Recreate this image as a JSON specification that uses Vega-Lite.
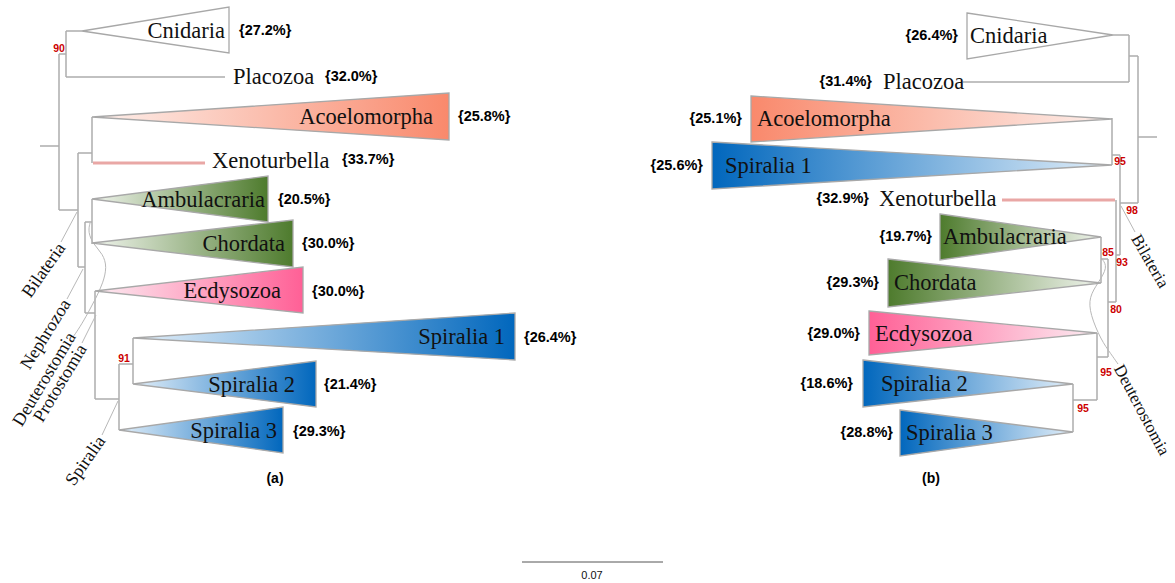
{
  "$schema": "https://vega.github.io/schema/vega-lite/v6.json",
  "width": 1175,
  "height": 583,
  "autosize": {"type": "fit", "contains": "padding"},
  "padding": 0,
  "background": "white",
  "config": {"view": {"stroke": null}},
  "datasets": {
    "br": [
      {"x": 40, "y": 146, "x2": 59, "y2": 146},
      {"x": 59, "y": 54, "x2": 59, "y2": 210},
      {"x": 59, "y": 54, "x2": 66, "y2": 54},
      {"x": 66, "y": 31, "x2": 66, "y2": 77},
      {"x": 66, "y": 31, "x2": 82, "y2": 31},
      {"x": 66, "y": 77, "x2": 225, "y2": 77},
      {"x": 59, "y": 210, "x2": 78, "y2": 210},
      {"x": 78, "y": 153, "x2": 78, "y2": 267},
      {"x": 78, "y": 153, "x2": 92, "y2": 153},
      {"x": 92, "y": 117, "x2": 92, "y2": 163},
      {"x": 78, "y": 267, "x2": 85, "y2": 267},
      {"x": 85, "y": 222, "x2": 85, "y2": 313},
      {"x": 85, "y": 222, "x2": 92, "y2": 222},
      {"x": 92, "y": 199, "x2": 92, "y2": 244},
      {"x": 85, "y": 313, "x2": 95, "y2": 313},
      {"x": 95, "y": 291, "x2": 95, "y2": 399},
      {"x": 95, "y": 399, "x2": 119, "y2": 399},
      {"x": 119, "y": 364, "x2": 119, "y2": 430},
      {"x": 119, "y": 364, "x2": 133, "y2": 364},
      {"x": 133, "y": 338, "x2": 133, "y2": 384},
      {"x": 1138, "y": 137, "x2": 1157, "y2": 137},
      {"x": 1138, "y": 56, "x2": 1138, "y2": 203},
      {"x": 1129, "y": 56, "x2": 1138, "y2": 56},
      {"x": 1129, "y": 35, "x2": 1129, "y2": 82},
      {"x": 1113, "y": 35, "x2": 1129, "y2": 35},
      {"x": 963, "y": 82, "x2": 1129, "y2": 82},
      {"x": 1120, "y": 203, "x2": 1138, "y2": 203},
      {"x": 1120, "y": 155, "x2": 1120, "y2": 255},
      {"x": 1112, "y": 155, "x2": 1120, "y2": 155},
      {"x": 1112, "y": 118, "x2": 1112, "y2": 165},
      {"x": 1116, "y": 255, "x2": 1120, "y2": 255},
      {"x": 1116, "y": 200, "x2": 1116, "y2": 302},
      {"x": 1108, "y": 302, "x2": 1116, "y2": 302},
      {"x": 1108, "y": 259, "x2": 1108, "y2": 357},
      {"x": 1101, "y": 259, "x2": 1108, "y2": 259},
      {"x": 1101, "y": 237, "x2": 1101, "y2": 283},
      {"x": 1097, "y": 357, "x2": 1108, "y2": 357},
      {"x": 1097, "y": 333, "x2": 1097, "y2": 400},
      {"x": 1073, "y": 400, "x2": 1097, "y2": 400},
      {"x": 1073, "y": 384, "x2": 1073, "y2": 432}
    ],
    "xeno": [
      {"x": 93, "y": 163, "x2": 205, "y2": 163},
      {"x": 1002, "y": 200, "x2": 1115, "y2": 200}
    ],
    "lead": [
      {"x": 77, "y": 212, "x2": 61, "y2": 242},
      {"x": 83, "y": 269, "x2": 67, "y2": 299},
      {"x": 96, "y": 315, "x2": 82, "y2": 343},
      {"x": 118, "y": 401, "x2": 102, "y2": 435},
      {"x": 1121, "y": 206, "x2": 1135, "y2": 232}
    ],
    "curve": [
      {"id": "a", "o": 1, "x": 90, "y": 223},
      {"id": "a", "o": 2, "x": 88, "y": 232},
      {"id": "a", "o": 3, "x": 93, "y": 244},
      {"id": "a", "o": 4, "x": 103, "y": 254},
      {"id": "a", "o": 5, "x": 107, "y": 267},
      {"id": "a", "o": 6, "x": 103, "y": 283},
      {"id": "a", "o": 7, "x": 96, "y": 298},
      {"id": "a", "o": 8, "x": 88, "y": 313},
      {"id": "a", "o": 9, "x": 80, "y": 327},
      {"id": "a", "o": 10, "x": 73, "y": 337},
      {"id": "b", "o": 1, "x": 1102, "y": 259},
      {"id": "b", "o": 2, "x": 1108, "y": 267},
      {"id": "b", "o": 3, "x": 1098, "y": 283},
      {"id": "b", "o": 4, "x": 1089, "y": 297},
      {"id": "b", "o": 5, "x": 1090, "y": 314},
      {"id": "b", "o": 6, "x": 1101, "y": 340},
      {"id": "b", "o": 7, "x": 1111, "y": 354},
      {"id": "b", "o": 8, "x": 1118, "y": 364}
    ],
    "tri": [
      {"n": "Cnidaria a", "g": "a-white", "x": 82, "y": 31, "y2": 31},
      {"n": "Cnidaria a", "g": "a-white", "x": 229, "y": 7, "y2": 53},
      {"n": "Acoelomorpha a", "g": "a-orange", "x": 92, "y": 117, "y2": 117},
      {"n": "Acoelomorpha a", "g": "a-orange", "x": 449, "y": 93, "y2": 140},
      {"n": "Ambulacraria a", "g": "a-green", "x": 92, "y": 199, "y2": 199},
      {"n": "Ambulacraria a", "g": "a-green", "x": 268, "y": 176, "y2": 222},
      {"n": "Chordata a", "g": "a-green", "x": 92, "y": 243, "y2": 243},
      {"n": "Chordata a", "g": "a-green", "x": 293, "y": 220, "y2": 267},
      {"n": "Ecdysozoa a", "g": "a-pink", "x": 95, "y": 291, "y2": 291},
      {"n": "Ecdysozoa a", "g": "a-pink", "x": 303, "y": 267, "y2": 313},
      {"n": "Spiralia 1 a", "g": "a-blue", "x": 133, "y": 338, "y2": 338},
      {"n": "Spiralia 1 a", "g": "a-blue", "x": 515, "y": 313, "y2": 360},
      {"n": "Spiralia 2 a", "g": "a-blue", "x": 133, "y": 384, "y2": 384},
      {"n": "Spiralia 2 a", "g": "a-blue", "x": 316, "y": 361, "y2": 407},
      {"n": "Spiralia 3 a", "g": "a-blue", "x": 119, "y": 430, "y2": 430},
      {"n": "Spiralia 3 a", "g": "a-blue", "x": 283, "y": 407, "y2": 453},
      {"n": "Cnidaria b", "g": "b-white", "x": 1113, "y": 35, "y2": 35},
      {"n": "Cnidaria b", "g": "b-white", "x": 967, "y": 13, "y2": 59},
      {"n": "Acoelomorpha b", "g": "b-orange", "x": 1112, "y": 119, "y2": 119},
      {"n": "Acoelomorpha b", "g": "b-orange", "x": 751, "y": 96, "y2": 142},
      {"n": "Spiralia 1 b", "g": "b-blue", "x": 1112, "y": 165, "y2": 165},
      {"n": "Spiralia 1 b", "g": "b-blue", "x": 712, "y": 142, "y2": 189},
      {"n": "Spiralia 2 b", "g": "b-blue", "x": 1073, "y": 384, "y2": 384},
      {"n": "Spiralia 2 b", "g": "b-blue", "x": 863, "y": 360, "y2": 407},
      {"n": "Spiralia 3 b", "g": "b-blue", "x": 1073, "y": 432, "y2": 432},
      {"n": "Spiralia 3 b", "g": "b-blue", "x": 900, "y": 410, "y2": 456},
      {"n": "Ambulacraria b", "g": "b-green", "x": 1101, "y": 237, "y2": 237},
      {"n": "Ambulacraria b", "g": "b-green", "x": 940, "y": 214, "y2": 260},
      {"n": "Chordata b", "g": "b-green", "x": 1101, "y": 283, "y2": 283},
      {"n": "Chordata b", "g": "b-green", "x": 888, "y": 259, "y2": 307},
      {"n": "Ecdysozoa b", "g": "b-pink", "x": 1097, "y": 333, "y2": 333},
      {"n": "Ecdysozoa b", "g": "b-pink", "x": 869, "y": 311, "y2": 355}
    ],
    "lab": [
      {"t": "Cnidaria", "al": "r", "x": 225, "y": 31},
      {"t": "Acoelomorpha", "al": "r", "x": 433, "y": 117},
      {"t": "Ambulacraria", "al": "r", "x": 265, "y": 200},
      {"t": "Chordata", "al": "r", "x": 285, "y": 244},
      {"t": "Ecdysozoa", "al": "r", "x": 281, "y": 291},
      {"t": "Spiralia 1", "al": "r", "x": 505, "y": 337},
      {"t": "Spiralia 2", "al": "r", "x": 295, "y": 385},
      {"t": "Spiralia 3", "al": "r", "x": 277, "y": 431},
      {"t": "Placozoa", "al": "l", "x": 233, "y": 77},
      {"t": "Xenoturbella", "al": "l", "x": 212, "y": 161},
      {"t": "Cnidaria", "al": "l", "x": 970, "y": 36},
      {"t": "Placozoa", "al": "l", "x": 883, "y": 82},
      {"t": "Acoelomorpha", "al": "l", "x": 757, "y": 119},
      {"t": "Spiralia 1", "al": "l", "x": 725, "y": 166},
      {"t": "Xenoturbella", "al": "l", "x": 879, "y": 199},
      {"t": "Ambulacraria", "al": "l", "x": 943, "y": 237},
      {"t": "Chordata", "al": "l", "x": 894, "y": 283},
      {"t": "Ecdysozoa", "al": "l", "x": 875, "y": 334},
      {"t": "Spiralia 2", "al": "l", "x": 881, "y": 384},
      {"t": "Spiralia 3", "al": "l", "x": 906, "y": 433}
    ],
    "pct": [
      {"t": "{27.2%}", "al": "l", "x": 239, "y": 31},
      {"t": "{32.0%}", "al": "l", "x": 325, "y": 77},
      {"t": "{25.8%}", "al": "l", "x": 458, "y": 117},
      {"t": "{33.7%}", "al": "l", "x": 342, "y": 160},
      {"t": "{20.5%}", "al": "l", "x": 278, "y": 200},
      {"t": "{30.0%}", "al": "l", "x": 302, "y": 244},
      {"t": "{30.0%}", "al": "l", "x": 312, "y": 292},
      {"t": "{26.4%}", "al": "l", "x": 524, "y": 338},
      {"t": "{21.4%}", "al": "l", "x": 324, "y": 385},
      {"t": "{29.3%}", "al": "l", "x": 293, "y": 432},
      {"t": "{26.4%}", "al": "r", "x": 958, "y": 36},
      {"t": "{31.4%}", "al": "r", "x": 872, "y": 82},
      {"t": "{25.1%}", "al": "r", "x": 742, "y": 119},
      {"t": "{25.6%}", "al": "r", "x": 703, "y": 166},
      {"t": "{32.9%}", "al": "r", "x": 869, "y": 199},
      {"t": "{19.7%}", "al": "r", "x": 932, "y": 237},
      {"t": "{29.3%}", "al": "r", "x": 879, "y": 283},
      {"t": "{29.0%}", "al": "r", "x": 860, "y": 334},
      {"t": "{18.6%}", "al": "r", "x": 853, "y": 384},
      {"t": "{28.8%}", "al": "r", "x": 893, "y": 433}
    ],
    "boot": [
      {"t": "90", "x": 59, "y": 49},
      {"t": "91", "x": 124, "y": 359},
      {"t": "95", "x": 1120, "y": 162},
      {"t": "98", "x": 1132, "y": 211},
      {"t": "85", "x": 1108, "y": 253},
      {"t": "93", "x": 1122, "y": 263},
      {"t": "80", "x": 1116, "y": 310},
      {"t": "95", "x": 1106, "y": 373},
      {"t": "95", "x": 1083, "y": 409}
    ],
    "rot": [
      {"t": "Bilateria", "al": "r", "x": 62, "y": 245, "a": -55},
      {"t": "Nephrozoa", "al": "r", "x": 67, "y": 301, "a": -58},
      {"t": "Deuterostomia", "al": "r", "x": 72, "y": 334, "a": -59},
      {"t": "Protostomia", "al": "r", "x": 83, "y": 346, "a": -59},
      {"t": "Spiralia", "al": "r", "x": 102, "y": 438, "a": -55},
      {"t": "Bilateria", "al": "l", "x": 1135, "y": 236, "a": 60},
      {"t": "Deuterostomia", "al": "l", "x": 1118, "y": 366, "a": 62}
    ],
    "panel": [
      {"t": "(a)", "x": 275, "y": 479},
      {"t": "(b)", "x": 931, "y": 479}
    ],
    "sbar": [
      {"x": 522, "y": 562, "x2": 663, "y2": 562, "t": "0.07", "tx": 592, "ty": 576}
    ]
  },
  "encoding": {
    "x": {"field": "x", "type": "quantitative", "scale": {"domain": [0, 1175], "nice": false, "zero": false}, "axis": null},
    "y": {"field": "y", "type": "quantitative", "scale": {"domain": [0, 583], "nice": false, "zero": false, "reverse": true}, "axis": null}
  },
  "layer": [
    {
      "data": {"name": "br"},
      "mark": {"type": "rule", "stroke": "#acacac", "strokeWidth": 1.5},
      "encoding": {"x2": {"field": "x2"}, "y2": {"field": "y2"}}
    },
    {
      "data": {"name": "xeno"},
      "mark": {"type": "rule", "stroke": "#e9a7a5", "strokeWidth": 3},
      "encoding": {"x2": {"field": "x2"}, "y2": {"field": "y2"}}
    },
    {
      "data": {"name": "lead"},
      "mark": {"type": "rule", "stroke": "#b8b8b8", "strokeWidth": 1},
      "encoding": {"x2": {"field": "x2"}, "y2": {"field": "y2"}}
    },
    {
      "data": {"name": "curve"},
      "mark": {"type": "line", "stroke": "#b8b8b8", "strokeWidth": 1, "interpolate": "basis"},
      "encoding": {"detail": {"field": "id"}, "order": {"field": "o", "type": "quantitative"}}
    },
    {
      "data": {"name": "tri"},
      "transform": [{"filter": "datum.g == 'a-white' || datum.g == 'b-white'"}],
      "mark": {"type": "area", "orient": "vertical", "fill": "white", "stroke": "#a8a8a8", "strokeWidth": 1.3},
      "encoding": {
        "y": {"field": "y", "type": "quantitative", "stack": null, "scale": {"domain": [0, 583], "nice": false, "zero": false, "reverse": true}, "axis": null},
        "y2": {"field": "y2"}, "detail": {"field": "n"}
      }
    },
    {
      "data": {"name": "tri"},
      "transform": [{"filter": "datum.g == 'a-orange'"}],
      "mark": {"type": "area", "orient": "vertical", "stroke": "#a8a8a8", "strokeWidth": 1.3,
        "fill": {"gradient": "linear", "x1": 0, "y1": 0, "x2": 1, "y2": 0, "stops": [{"offset": 0, "color": "#fdf0ec"}, {"offset": 1, "color": "#f9896c"}]}},
      "encoding": {
        "y": {"field": "y", "type": "quantitative", "stack": null, "scale": {"domain": [0, 583], "nice": false, "zero": false, "reverse": true}, "axis": null},
        "y2": {"field": "y2"}, "detail": {"field": "n"}
      }
    },
    {
      "data": {"name": "tri"},
      "transform": [{"filter": "datum.g == 'a-green'"}],
      "mark": {"type": "area", "orient": "vertical", "stroke": "#a8a8a8", "strokeWidth": 1.3,
        "fill": {"gradient": "linear", "x1": 0, "y1": 0, "x2": 1, "y2": 0, "stops": [{"offset": 0, "color": "#f1f5ee"}, {"offset": 1, "color": "#4e7b2d"}]}},
      "encoding": {
        "y": {"field": "y", "type": "quantitative", "stack": null, "scale": {"domain": [0, 583], "nice": false, "zero": false, "reverse": true}, "axis": null},
        "y2": {"field": "y2"}, "detail": {"field": "n"}
      }
    },
    {
      "data": {"name": "tri"},
      "transform": [{"filter": "datum.g == 'a-pink'"}],
      "mark": {"type": "area", "orient": "vertical", "stroke": "#a8a8a8", "strokeWidth": 1.3,
        "fill": {"gradient": "linear", "x1": 0, "y1": 0, "x2": 1, "y2": 0, "stops": [{"offset": 0, "color": "#fcecf2"}, {"offset": 1, "color": "#ff6096"}]}},
      "encoding": {
        "y": {"field": "y", "type": "quantitative", "stack": null, "scale": {"domain": [0, 583], "nice": false, "zero": false, "reverse": true}, "axis": null},
        "y2": {"field": "y2"}, "detail": {"field": "n"}
      }
    },
    {
      "data": {"name": "tri"},
      "transform": [{"filter": "datum.g == 'a-blue'"}],
      "mark": {"type": "area", "orient": "vertical", "stroke": "#a8a8a8", "strokeWidth": 1.3,
        "fill": {"gradient": "linear", "x1": 0, "y1": 0, "x2": 1, "y2": 0, "stops": [{"offset": 0, "color": "#e3eff9"}, {"offset": 1, "color": "#0167bd"}]}},
      "encoding": {
        "y": {"field": "y", "type": "quantitative", "stack": null, "scale": {"domain": [0, 583], "nice": false, "zero": false, "reverse": true}, "axis": null},
        "y2": {"field": "y2"}, "detail": {"field": "n"}
      }
    },
    {
      "data": {"name": "tri"},
      "transform": [{"filter": "datum.g == 'b-orange'"}],
      "mark": {"type": "area", "orient": "vertical", "stroke": "#a8a8a8", "strokeWidth": 1.3,
        "fill": {"gradient": "linear", "x1": 0, "y1": 0, "x2": 1, "y2": 0, "stops": [{"offset": 0, "color": "#f9896c"}, {"offset": 1, "color": "#fdf0ec"}]}},
      "encoding": {
        "y": {"field": "y", "type": "quantitative", "stack": null, "scale": {"domain": [0, 583], "nice": false, "zero": false, "reverse": true}, "axis": null},
        "y2": {"field": "y2"}, "detail": {"field": "n"}
      }
    },
    {
      "data": {"name": "tri"},
      "transform": [{"filter": "datum.g == 'b-green'"}],
      "mark": {"type": "area", "orient": "vertical", "stroke": "#a8a8a8", "strokeWidth": 1.3,
        "fill": {"gradient": "linear", "x1": 0, "y1": 0, "x2": 1, "y2": 0, "stops": [{"offset": 0, "color": "#4e7b2d"}, {"offset": 1, "color": "#f1f5ee"}]}},
      "encoding": {
        "y": {"field": "y", "type": "quantitative", "stack": null, "scale": {"domain": [0, 583], "nice": false, "zero": false, "reverse": true}, "axis": null},
        "y2": {"field": "y2"}, "detail": {"field": "n"}
      }
    },
    {
      "data": {"name": "tri"},
      "transform": [{"filter": "datum.g == 'b-pink'"}],
      "mark": {"type": "area", "orient": "vertical", "stroke": "#a8a8a8", "strokeWidth": 1.3,
        "fill": {"gradient": "linear", "x1": 0, "y1": 0, "x2": 1, "y2": 0, "stops": [{"offset": 0, "color": "#ff6096"}, {"offset": 1, "color": "#fcecf2"}]}},
      "encoding": {
        "y": {"field": "y", "type": "quantitative", "stack": null, "scale": {"domain": [0, 583], "nice": false, "zero": false, "reverse": true}, "axis": null},
        "y2": {"field": "y2"}, "detail": {"field": "n"}
      }
    },
    {
      "data": {"name": "tri"},
      "transform": [{"filter": "datum.g == 'b-blue'"}],
      "mark": {"type": "area", "orient": "vertical", "stroke": "#a8a8a8", "strokeWidth": 1.3,
        "fill": {"gradient": "linear", "x1": 0, "y1": 0, "x2": 1, "y2": 0, "stops": [{"offset": 0, "color": "#0167bd"}, {"offset": 1, "color": "#e3eff9"}]}},
      "encoding": {
        "y": {"field": "y", "type": "quantitative", "stack": null, "scale": {"domain": [0, 583], "nice": false, "zero": false, "reverse": true}, "axis": null},
        "y2": {"field": "y2"}, "detail": {"field": "n"}
      }
    },
    {
      "data": {"name": "lab"},
      "transform": [{"filter": "datum.al == 'r'"}],
      "mark": {"type": "text", "align": "right", "baseline": "middle", "font": "Liberation Serif", "fontSize": 22.5, "color": "#111111"},
      "encoding": {"text": {"field": "t"}}
    },
    {
      "data": {"name": "lab"},
      "transform": [{"filter": "datum.al == 'l'"}],
      "mark": {"type": "text", "align": "left", "baseline": "middle", "font": "Liberation Serif", "fontSize": 22.5, "color": "#111111"},
      "encoding": {"text": {"field": "t"}}
    },
    {
      "data": {"name": "pct"},
      "transform": [{"filter": "datum.al == 'l'"}],
      "mark": {"type": "text", "align": "left", "baseline": "middle", "font": "Liberation Sans", "fontWeight": "bold", "fontSize": 14.5, "color": "#000000"},
      "encoding": {"text": {"field": "t"}}
    },
    {
      "data": {"name": "pct"},
      "transform": [{"filter": "datum.al == 'r'"}],
      "mark": {"type": "text", "align": "right", "baseline": "middle", "font": "Liberation Sans", "fontWeight": "bold", "fontSize": 14.5, "color": "#000000"},
      "encoding": {"text": {"field": "t"}}
    },
    {
      "data": {"name": "boot"},
      "mark": {"type": "text", "align": "center", "baseline": "middle", "font": "Liberation Sans", "fontWeight": "bold", "fontSize": 10.5, "color": "#cc0000"},
      "encoding": {"text": {"field": "t"}}
    },
    {
      "data": {"name": "rot"},
      "transform": [{"filter": "datum.al == 'r'"}],
      "mark": {"type": "text", "align": "right", "baseline": "middle", "font": "Liberation Serif", "fontSize": 18, "color": "#111111"},
      "encoding": {"text": {"field": "t"}, "angle": {"field": "a", "type": "quantitative", "scale": null}}
    },
    {
      "data": {"name": "rot"},
      "transform": [{"filter": "datum.al == 'l'"}],
      "mark": {"type": "text", "align": "left", "baseline": "middle", "font": "Liberation Serif", "fontSize": 17, "color": "#111111"},
      "encoding": {"text": {"field": "t"}, "angle": {"field": "a", "type": "quantitative", "scale": null}}
    },
    {
      "data": {"name": "panel"},
      "mark": {"type": "text", "align": "center", "baseline": "middle", "font": "Liberation Sans", "fontWeight": "bold", "fontSize": 14, "color": "#000000"},
      "encoding": {"text": {"field": "t"}}
    },
    {
      "data": {"name": "sbar"},
      "mark": {"type": "rule", "stroke": "#555555", "strokeWidth": 1},
      "encoding": {"x2": {"field": "x2"}, "y2": {"field": "y2"}}
    },
    {
      "data": {"name": "sbar"},
      "mark": {"type": "text", "align": "center", "baseline": "middle", "font": "Liberation Sans", "fontSize": 11, "color": "#111111"},
      "encoding": {
        "x": {"field": "tx", "type": "quantitative", "scale": {"domain": [0, 1175], "nice": false, "zero": false}, "axis": null},
        "y": {"field": "ty", "type": "quantitative", "scale": {"domain": [0, 583], "nice": false, "zero": false, "reverse": true}, "axis": null},
        "text": {"field": "t"}
      }
    }
  ]
}
